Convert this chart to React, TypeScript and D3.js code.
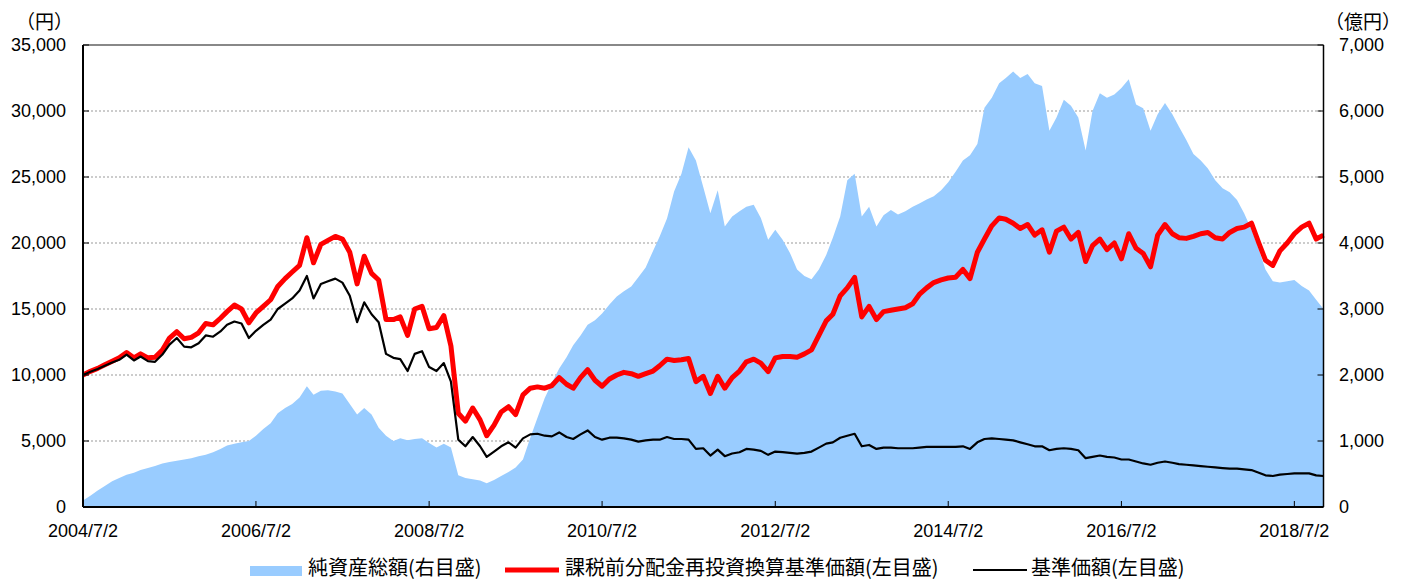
import * as d3 from "d3";

// monthly observation dates (2nd of each month), 2004/7/2 .. 2018/11/2
const dates = d3
  .timeMonth.range(new Date(2004, 6, 1), new Date(2018, 11, 1))
  .map((d) => d3.timeDay.offset(d, 1));

// 純資産総額 (億円, right axis)
const netAssets = [
  100, 170, 250, 320, 390, 440, 490, 520, 560, 590,
  620, 660, 680, 700, 720, 740, 770, 790, 830, 880,
  930, 960, 980, 1000, 1080, 1180, 1270, 1420, 1500, 1560,
  1660, 1830, 1700, 1760, 1770, 1750, 1720, 1560, 1400, 1500,
  1400, 1200, 1080, 1000, 1040, 1010, 1030, 1040, 970, 900,
  960, 900, 480, 440, 420, 400, 360, 410, 470, 530,
  600, 720, 1050, 1350, 1650, 1880, 2100, 2270, 2450, 2600,
  2760, 2830, 2930, 3070, 3190, 3270, 3340, 3480, 3630, 3880,
  4100, 4370, 4780, 5050, 5450, 5250, 4850, 4450, 4800, 4250,
  4400, 4480, 4550, 4580, 4380, 4050, 4200, 4050, 3850, 3600,
  3500, 3450, 3600, 3820, 4080, 4400, 4950, 5050, 4400, 4550,
  4250, 4420, 4500, 4430, 4480, 4550, 4600, 4660, 4710, 4800,
  4920, 5080, 5250, 5330, 5500, 6050, 6200, 6420, 6500, 6600,
  6500, 6560, 6420, 6380, 5700, 5900, 6170, 6080, 5900, 5400,
  6000, 6270, 6200, 6250, 6350, 6480, 6100, 6040, 5700, 5950,
  6120, 5950, 5760, 5560, 5350, 5250, 5130, 4950, 4830, 4770,
  4650, 4450, 4200, 3900, 3600, 3420, 3400, 3420, 3440, 3350,
  3280, 3140, 3000,
];

// 課税前分配金再投資換算基準価額 (円, left axis)
const navReinvested = [
  10000, 10280, 10500, 10780, 11050, 11300, 11700, 11300, 11600, 11300,
  11350, 11900, 12800, 13280, 12750, 12850, 13200, 13900, 13800, 14300,
  14800, 15300, 15000, 13950, 14700, 15200, 15700, 16700, 17300, 17800,
  18300, 20400, 18500, 19900, 20200, 20500, 20300, 19300, 16900, 19000,
  17700, 17200, 14200, 14200, 14400, 13000, 15000, 15200, 13500, 13600,
  14500, 12200, 7100, 6500, 7500, 6600, 5400, 6200, 7200, 7600,
  7000, 8500, 9000, 9100, 9000, 9200, 9800, 9300, 9000, 9800,
  10400, 9600, 9150, 9700, 10000, 10200, 10100, 9900, 10100, 10300,
  10700, 11200, 11100, 11150, 11250, 9500, 9900, 8600, 9900, 9000,
  9800, 10300, 11000, 11200, 10900, 10250, 11300, 11400, 11400, 11350,
  11600, 11900, 13000, 14100, 14600, 16000, 16600, 17400, 14400, 15200,
  14200, 14800, 14900, 15000, 15100, 15400, 16100, 16600, 17000, 17200,
  17350, 17400, 18000, 17300, 19300, 20300, 21300, 21900, 21800, 21500,
  21100, 21400, 20600, 21000, 19300, 20900, 21200, 20300, 20800, 18600,
  19800, 20300, 19500, 20000, 18800, 20700, 19600, 19200, 18200, 20600,
  21400, 20700, 20400, 20350, 20500, 20700, 20800, 20400, 20300, 20800,
  21100, 21200, 21500, 20000, 18700, 18300, 19400, 20000, 20700, 21200,
  21500, 20300, 20600,
];

// 基準価額 (円, left axis)
const nav = [
  10000, 10250, 10450, 10700, 10950, 11150, 11550, 11100, 11400, 11050,
  11000, 11550, 12300, 12800, 12150, 12100, 12400, 13000, 12900, 13300,
  13800, 14050, 13900, 12800, 13350, 13800, 14200, 15000, 15400, 15800,
  16400, 17500, 15800, 16900, 17100, 17300, 17000, 16000, 14000, 15500,
  14600, 14000, 11600, 11300, 11200, 10300, 11600, 11800, 10600, 10300,
  10900, 9500, 5100, 4600, 5300, 4600, 3800, 4200, 4600, 4900,
  4500, 5200, 5500, 5550, 5400, 5350, 5650, 5300, 5150, 5500,
  5800, 5300, 5100, 5250, 5250, 5200, 5100, 4950, 5050, 5100,
  5100, 5300, 5150, 5150, 5100, 4400, 4450, 3900, 4350, 3850,
  4050, 4150, 4400, 4350, 4250, 3950, 4200, 4150, 4100, 4050,
  4100, 4200, 4500, 4800, 4900, 5250, 5400, 5550, 4600, 4700,
  4400, 4500, 4500, 4450, 4450, 4450, 4500, 4550, 4550, 4550,
  4550, 4550, 4600, 4400, 4900, 5150, 5200, 5150, 5100, 5050,
  4900, 4750, 4600, 4600, 4300, 4400, 4450, 4400, 4300, 3700,
  3800, 3900, 3800, 3750, 3600, 3600, 3450, 3300, 3200, 3350,
  3450, 3350, 3250, 3200, 3150, 3100, 3050, 3000, 2950, 2900,
  2900, 2850, 2800, 2600, 2400, 2350, 2450, 2500, 2550, 2550,
  2550, 2400, 2350,
];

const xTickLabels = [
  "2004/7/2", "2006/7/2", "2008/7/2", "2010/7/2",
  "2012/7/2", "2014/7/2", "2016/7/2", "2018/7/2",
];
const leftTicks = [0, 5000, 10000, 15000, 20000, 25000, 30000, 35000];
const rightTicks = [0, 1000, 2000, 3000, 4000, 5000, 6000, 7000];

const legendItems = [
  { label: "純資産総額(右目盛)", kind: "area" },
  { label: "課税前分配金再投資換算基準価額(左目盛)", kind: "red" },
  { label: "基準価額(左目盛)", kind: "black" },
];

export default function App() {
  const width = 1402;
  const height = 582;
  const left = 83;
  const right = 1323.5;
  const top = 45;
  const bottom = 507;

  const parse = d3.timeParse("%Y/%m/%d");
  const xScale = d3
    .scaleTime()
    .domain([dates[0], dates[dates.length - 1]])
    .range([left, right]);
  const yLeft = d3.scaleLinear().domain([0, 35000]).range([bottom, top]);
  const yRight = d3.scaleLinear().domain([0, 7000]).range([bottom, top]);

  const area = d3
    .area<number>()
    .x((_, i) => xScale(dates[i]))
    .y0(bottom)
    .y1((d) => yRight(d));
  const line = d3
    .line<number>()
    .x((_, i) => xScale(dates[i]))
    .y((d) => yLeft(d));

  const fmt = d3.format(",");
  const numFont = "'Liberation Sans', Arial, sans-serif";
  const jpFont = "'Noto Sans CJK JP', sans-serif";

  const legendX = [250, 505, 973];
  const legendTextX = [308, 565, 1031];

  return (
    <svg
      width={width}
      height={height}
      style={{ position: "absolute", left: 0, top: 0, background: "#fff" }}
    >
      {/* grid lines (behind area) */}
      {leftTicks.slice(1, -1).map((t) => (
        <line
          key={t}
          x1={left}
          x2={right}
          y1={yLeft(t)}
          y2={yLeft(t)}
          stroke="#999"
          strokeWidth={1}
          strokeDasharray="2,2"
        />
      ))}

      <path d={area(netAssets) ?? ""} fill="#99ccff" />
      <path
        d={line(navReinvested) ?? ""}
        fill="none"
        stroke="#ff0000"
        strokeWidth={5}
        strokeLinejoin="round"
      />
      <path
        d={line(nav) ?? ""}
        fill="none"
        stroke="#000"
        strokeWidth={2.2}
        strokeLinejoin="round"
      />

      {/* frame */}
      <line x1={left} x2={right} y1={top} y2={top} stroke="#888" strokeWidth={2} />
      <line x1={left} x2={left} y1={top} y2={bottom} stroke="#000" strokeWidth={2} />
      <line x1={right} x2={right} y1={top} y2={bottom} stroke="#000" strokeWidth={1.5} />
      <line x1={left} x2={right} y1={bottom} y2={bottom} stroke="#000" strokeWidth={2} />

      {/* left axis */}
      {leftTicks.map((t) => (
        <g key={t}>
          <line x1={left} x2={left + 6} y1={yLeft(t)} y2={yLeft(t)} stroke="#000" />
          <text
            x={66}
            y={yLeft(t)}
            dy="0.35em"
            textAnchor="end"
            fontSize={18}
            fontFamily={numFont}
            fill="#000"
          >
            {fmt(t)}
          </text>
        </g>
      ))}

      {/* right axis */}
      {rightTicks.map((t) => (
        <g key={t}>
          <line x1={right - 6} x2={right} y1={yRight(t)} y2={yRight(t)} stroke="#000" />
          <text
            x={1339}
            y={yRight(t)}
            dy="0.35em"
            textAnchor="start"
            fontSize={18}
            fontFamily={numFont}
            fill="#000"
          >
            {fmt(t)}
          </text>
        </g>
      ))}

      {/* x axis */}
      {xTickLabels.map((s) => {
        const x = xScale(parse(s.replace(/\/(\d)\//, "/0$1/"))!);
        return (
          <g key={s}>
            <line x1={x} x2={x} y1={bottom} y2={bottom - 6} stroke="#000" />
            <text
              x={x}
              y={537}
              textAnchor="middle"
              fontSize={18}
              fontFamily={numFont}
              fill="#000"
            >
              {s}
            </text>
          </g>
        );
      })}

      {/* units */}
      <text x={16} y={29} fontSize={19} fontFamily={jpFont} fill="#000">
        （円）
      </text>
      <text x={1325} y={29} fontSize={19} fontFamily={jpFont} fill="#000">
        （億円）
      </text>

      {/* legend */}
      {legendItems.map((item, i) => (
        <g key={item.label}>
          {item.kind === "area" ? (
            <rect x={legendX[i]} y={566} width={52} height={10} fill="#99ccff" />
          ) : (
            <line
              x1={legendX[i]}
              x2={legendX[i] + 54}
              y1={570}
              y2={570}
              stroke={item.kind === "red" ? "#ff0000" : "#000"}
              strokeWidth={item.kind === "red" ? 5 : 2}
            />
          )}
          <text
            x={legendTextX[i]}
            y={575}
            fontSize={20}
            fontFamily={jpFont}
            fill="#000"
          >
            {item.label}
          </text>
        </g>
      ))}
    </svg>
  );
}
